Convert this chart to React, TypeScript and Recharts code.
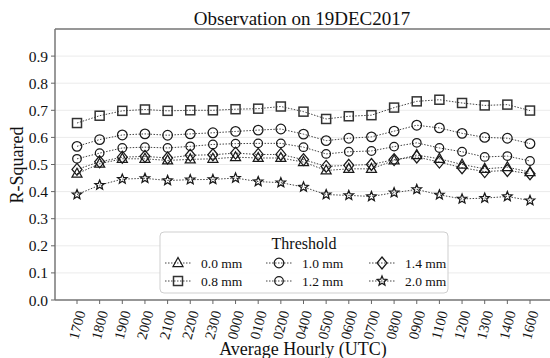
import React from 'react';
import { LineChart, Line, XAxis, YAxis, CartesianGrid, ReferenceLine } from 'recharts';

const hours = ['1700','1800','1900','2000','2100','2200','2300','0000','0100','0200','0400','0500','0600','0700','0800','0900','1100','1200','1300','1400','1600'];

const t00 = [0.466,0.503,0.521,0.521,0.515,0.519,0.521,0.527,0.524,0.524,0.509,0.478,0.484,0.484,0.515,0.535,0.521,0.500,0.484,0.490,0.472];
const t08 = [0.653,0.680,0.698,0.703,0.698,0.700,0.700,0.704,0.706,0.714,0.695,0.668,0.678,0.682,0.710,0.733,0.739,0.727,0.718,0.721,0.699];
const t10 = [0.567,0.592,0.609,0.613,0.608,0.613,0.617,0.622,0.627,0.631,0.612,0.588,0.597,0.602,0.623,0.645,0.635,0.615,0.600,0.597,0.577];
const t12 = [0.521,0.542,0.561,0.564,0.561,0.567,0.574,0.577,0.578,0.578,0.564,0.539,0.547,0.550,0.566,0.580,0.561,0.547,0.528,0.531,0.513];
const t14 = [0.482,0.510,0.527,0.530,0.524,0.534,0.536,0.542,0.537,0.537,0.518,0.493,0.497,0.500,0.518,0.528,0.509,0.488,0.474,0.478,0.466];
const t20 = [0.389,0.424,0.446,0.449,0.441,0.444,0.445,0.450,0.437,0.433,0.417,0.389,0.386,0.382,0.396,0.408,0.388,0.373,0.376,0.382,0.367];

const yTicks = [0, 0.1, 0.2, 0.3, 0.4, 0.5, 0.6, 0.7, 0.8, 0.9];

const title = 'Observation on 19DEC2017';
const xLabel = 'Average Hourly (UTC)';
const yLabel = 'R-Squared';
const legendTitle = 'Threshold';

const series = [
  { key: 't00', name: '0.0 mm', values: t00, shape: 'triangle' },
  { key: 't08', name: '0.8 mm', values: t08, shape: 'square' },
  { key: 't10', name: '1.0 mm', values: t10, shape: 'circle' },
  { key: 't12', name: '1.2 mm', values: t12, shape: 'circle2' },
  { key: 't14', name: '1.4 mm', values: t14, shape: 'diamond' },
  { key: 't20', name: '2.0 mm', values: t20, shape: 'star' },
];

const data = hours.map((h, i) => {
  const row: any = { hour: h };
  series.forEach((s) => { row[s.key] = s.values[i]; });
  return row;
});

const FONT = "'Liberation Serif', 'Times New Roman', Times, serif";
const INK = '#111';

function Marker({ shape, cx, cy }: { shape: string; cx: number; cy: number }) {
  const common = { fill: 'none', stroke: '#1a1a1a', strokeWidth: 1.25 };
  switch (shape) {
    case 'triangle':
      return <polygon points={`${cx},${cy - 5.5} ${cx - 5},${cy + 3.5} ${cx + 5},${cy + 3.5}`} {...common} />;
    case 'square':
      return <rect x={cx - 4.5} y={cy - 4.5} width={9} height={9} fill="none" stroke="#333" strokeWidth={1.5} />;
    case 'circle':
      return <circle cx={cx} cy={cy} r={4.8} {...common} />;
    case 'circle2':
      return <circle cx={cx} cy={cy} r={4.3} {...common} />;
    case 'diamond':
      return <polygon points={`${cx},${cy - 6} ${cx + 5},${cy} ${cx},${cy + 6} ${cx - 5},${cy}`} {...common} />;
    case 'star': {
      const pts: string[] = [];
      for (let k = 0; k < 10; k++) {
        const r = k % 2 === 0 ? 5 : 2.2;
        const a = -Math.PI / 2 + (k * Math.PI) / 5;
        pts.push(`${cx + r * Math.cos(a)},${cy + r * Math.sin(a)}`);
      }
      return <polygon points={pts.join(' ')} {...common} />;
    }
    default:
      return null;
  }
}

const txt = (size: number) => ({ fontFamily: FONT, fontSize: size });

const XTick = (props: any) => {
  const { x, y, payload } = props;
  return (
    <g transform={`translate(${x},${y + 18})`}>
      <text transform="rotate(-75)" textAnchor="middle" dominantBaseline="central" style={txt(14.5)} fill={INK}>
        {payload.value}
      </text>
    </g>
  );
};

const YTick = (props: any) => {
  const { x, y, payload } = props;
  return (
    <text x={x} y={y} textAnchor="end" dominantBaseline="central" style={txt(15.5)} fill={INK}>
      {Number(payload.value).toFixed(1)}
    </text>
  );
};

const legendCols = [178, 279, 382];
const legendRows = [263, 281];

function LegendBox() {
  return (
    <g>
      <rect x={160} y={232} width={288} height={61} rx={4} fill="#fff" fillOpacity={0.85} stroke="#cfcfcf" strokeWidth={1} />
      <text x={304} y={249} textAnchor="middle" style={txt(16)} fill={INK}>{legendTitle}</text>
      {series.map((s, i) => {
        const cx = legendCols[Math.floor(i / 2)];
        const cy = legendRows[i % 2];
        return (
          <g key={s.key}>
            <line x1={cx - 13} x2={cx + 13} y1={cy} y2={cy} stroke="#444" strokeWidth={1} strokeDasharray="1.5 1.5" />
            <Marker shape={s.shape} cx={cx} cy={cy} />
            <text x={cx + 23} y={cy} dominantBaseline="central" style={txt(13.5)} fill={INK}>{s.name}</text>
          </g>
        );
      })}
    </g>
  );
}

export default function App() {
  return (
    <div style={{ position: 'absolute', left: 0, top: 0, background: '#fff', fontFamily: FONT }}>
      <LineChart width={550} height={358} data={data} margin={{ top: 29, right: 0, bottom: 0, left: 0 }}>
        <CartesianGrid horizontal vertical={false} stroke="#ebebeb" strokeWidth={1} />
        <XAxis
          dataKey="hour"
          padding={{ left: 22, right: 20 }}
          height={58}
          tick={<XTick />}
          tickSize={4}
          tickMargin={3}
          tickLine={{ stroke: '#666' }}
          axisLine={{ stroke: '#777', strokeWidth: 1.5 }}
          interval={0}
        />
        <YAxis
          width={55}
          domain={[0, 1]}
          ticks={yTicks}
          tick={<YTick />}
          tickSize={4}
          tickMargin={3}
          tickLine={{ stroke: '#666' }}
          axisLine={{ stroke: '#777', strokeWidth: 1.5 }}
          allowDataOverflow
        />
        <ReferenceLine y={1} stroke="#777" strokeWidth={1.5} />
        {series.map((s) => (
          <Line
            key={s.key}
            dataKey={s.key}
            name={s.name}
            type="linear"
            stroke="#444"
            strokeWidth={1}
            strokeDasharray="1.5 1.5"
            isAnimationActive={false}
            activeDot={false}
            dot={(p: any) => <Marker key={`${s.key}-${p.index}`} shape={s.shape} cx={p.cx} cy={p.cy} />}
          />
        ))}
        <text x={302} y={25} textAnchor="middle" style={txt(19)} fill={INK}>{title}</text>
        <text x={303} y={355} textAnchor="middle" style={txt(18)} fill={INK}>{xLabel}</text>
        <text x={23} y={165} transform="rotate(-90 23 165)" textAnchor="middle" style={txt(18)} fill={INK}>{yLabel}</text>
        <LegendBox />
      </LineChart>
    </div>
  );
}
